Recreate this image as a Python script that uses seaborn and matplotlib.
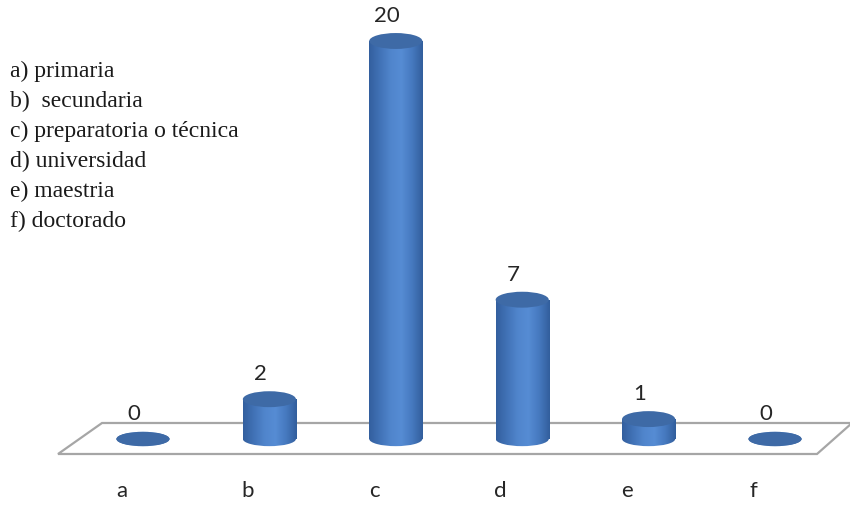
import numpy as np
import pandas as pd
import matplotlib
matplotlib.use("Agg")
import matplotlib.pyplot as plt
import seaborn as sns
from matplotlib.patches import Ellipse, Polygon
from matplotlib.colors import LinearSegmentedColormap

# Nivel de estudios: número de personas por categoría
categories = ["a", "b", "c", "d", "e", "f"]
counts = [0, 2, 20, 7, 1, 0]
legend_lines = [
    "a) primaria",
    "b)  secundaria",
    "c) preparatoria o técnica",
    "d) universidad",
    "e) maestria",
    "f) doctorado",
]

sns.set_theme(style="white")

fig = plt.figure(figsize=(8.5, 5.05), dpi=100)
ax = fig.add_axes([0, 0, 1, 1])

df = pd.DataFrame({"nivel": categories, "n": counts})
bar_w = 0.42
sns.barplot(data=df, x="nivel", y="n", ax=ax, width=bar_w, color="#4a7cc0",
            saturation=1, linewidth=0, zorder=2)

# cylinder shading
body_cmap = LinearSegmentedColormap.from_list(
    "cyl", ["#335f9e", "#4172b6", "#5085cc", "#568cd4", "#4679bf", "#325e9c"])
grad = np.linspace(0, 1, 256)[None, :]
cap_color = "#3e6aa6"
bottom_h = 0.72
cap_h = 0.8

# floor plane
floor = Polygon([(-0.672, -0.754), (-0.324, 0.804), (5.609, 0.804), (5.332, -0.754)],
                closed=True, facecolor="white", edgecolor="#a6a6a6", linewidth=1.6,
                zorder=1)
ax.add_patch(floor)

for patch, v in zip(ax.patches[:len(counts)], counts):
    x0 = patch.get_x()
    w = patch.get_width()
    xc = x0 + w / 2
    patch.set_facecolor("none")
    # bottom rounded part of the cylinder
    bottom = Ellipse((xc, 0), w, bottom_h, facecolor="none", edgecolor="none", zorder=2)
    ax.add_patch(bottom)
    im_b = ax.imshow(grad, extent=[x0, x0 + w, -bottom_h, bottom_h], cmap=body_cmap,
                     aspect="auto", zorder=2.1, interpolation="bilinear")
    im_b.set_clip_path(bottom)
    if v > 0:
        im = ax.imshow(grad, extent=[x0, x0 + w, 0, v], cmap=body_cmap,
                       aspect="auto", zorder=2.2, interpolation="bilinear")
        im.set_clip_path(patch)
        top_h = cap_h
    else:
        top_h = bottom_h
    # top cap
    ax.add_patch(Ellipse((xc, v), w, top_h, facecolor=cap_color,
                         edgecolor="none", zorder=3))
    ax.text(xc - 0.07, v + 1.25, f"{v}", ha="center", va="center",
            fontsize=16, family="Lato", color="#262626", zorder=4)

for i, c in enumerate(categories):
    ax.text(i - 0.17, -2.6, c, ha="center", va="center", fontsize=16,
            family="Lato", color="#262626")

ax.set_xlim(-1.131, 5.593)
ax.set_ylim(-3.317, 22.06)
ax.axis("off")

for i, line in enumerate(legend_lines):
    fig.text(10 / 850, 1 - (77 + 30 * i) / 505, line, ha="left", va="baseline",
             fontsize=17, family="Liberation Serif", color="#1a1a1a")

fig.savefig("out.png", dpi=100, facecolor="white")
